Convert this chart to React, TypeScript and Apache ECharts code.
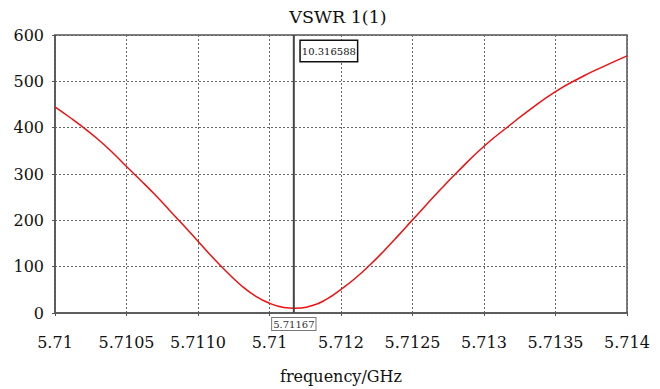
import React, { useEffect, useRef } from "react";
import * as echarts from "echarts";

const freq = [5.7100, 5.7101, 5.7102, 5.7103, 5.7104, 5.7105, 5.7106, 5.7107, 5.7108, 5.7109, 5.7110, 5.7111, 5.7112, 5.7113, 5.7114, 5.7115, 5.7116, 5.71167, 5.7118, 5.7119, 5.7120, 5.7121, 5.7122, 5.7123, 5.7124, 5.7125, 5.7127, 5.7128, 5.7130, 5.7132, 5.7133, 5.7135, 5.7137, 5.7138, 5.7140];
const vswr = [445, 423, 400, 375, 347, 316, 286, 255, 222, 189, 155, 121, 89, 60, 37, 21, 12, 10.3, 16, 30, 51, 75, 103, 134, 167, 201, 268, 300, 360, 410, 434, 478, 512, 527, 555];
const xTickLabels = ["5.71", "5.7105", "5.7110", "5.71", "5.712", "5.7125", "5.713", "5.7135", "5.714"];
const markerFreq = 5.71167;
const markerFreqLabel = "5.71167";
const markerValueLabel = "10.316588";
const titleText = "VSWR 1(1)";
const xAxisTitle = "frequency/GHz";

const FONT = "DejaVu Serif";

export default function App() {
  const ref = useRef<HTMLDivElement>(null);
  useEffect(() => {
    if (!ref.current) return;
    const chart = echarts.init(ref.current, undefined, { renderer: "svg" });
    const option: any = {
      animation: false,
      backgroundColor: "#fff",
      textStyle: { fontFamily: FONT },
      grid: {
        left: 55, right: 33, top: 35, bottom: 76,
        show: true, borderColor: "#555", borderWidth: 1.5, backgroundColor: "transparent",
      },
      xAxis: {
        type: "value",
        min: 5.71, max: 5.714, interval: 0.0005,
        name: xAxisTitle, nameLocation: "middle", nameGap: 55,
        nameTextStyle: { fontFamily: FONT, fontSize: 16, color: "#111" },
        axisLine: { show: true, lineStyle: { color: "#555", width: 1.5 } },
        axisTick: { show: true, length: 3, lineStyle: { color: "#555" } },
        axisLabel: {
          fontFamily: FONT, fontSize: 16, color: "#111", margin: 21,
          formatter: (v: number) => {
            const i = Math.round((v - 5.71) / 0.0005);
            return xTickLabels[i] ?? "";
          },
        },
        splitLine: { show: true, lineStyle: { color: "#666", type: [2, 2], width: 1 } },
      },
      yAxis: {
        type: "value",
        min: 0, max: 600, interval: 100,
        axisLine: { show: true, lineStyle: { color: "#555", width: 1.5 } },
        axisTick: { show: true, length: 3, lineStyle: { color: "#555" } },
        axisLabel: { fontFamily: FONT, fontSize: 16, color: "#111", margin: 11 },
        splitLine: { show: true, lineStyle: { color: "#666", type: [2, 2], width: 1 } },
      },
      series: [
        {
          type: "line",
          data: freq.map((f, i) => [f, vswr[i]]),
          smooth: 0.5,
          showSymbol: false,
          lineStyle: { color: "#ee1111", width: 1.5 },
          z: 3,
        },
      ],
    };
    chart.setOption(option);
    const pt = chart.convertToPixel({ gridIndex: 0 }, [markerFreq, 600]) as number[];
    const pb = chart.convertToPixel({ gridIndex: 0 }, [markerFreq, 0]) as number[];
    chart.setOption({
      graphic: [
        {
          type: "text",
          x: 338,
          y: 17,
          style: {
            text: titleText,
            align: "center",
            verticalAlign: "middle",
            fontFamily: FONT, fontSize: 17.5, fill: "#111",
          },
        },
        {
          type: "line",
          z: 50,
          shape: { x1: pt[0], y1: pt[1], x2: pb[0], y2: pb[1] },
          style: { stroke: "#444", lineWidth: 2 },
        },
        {
          type: "text",
          x: pt[0] + 7,
          y: pt[1] + 6,
          z: 100,
          style: {
            text: markerValueLabel,
            fontFamily: FONT, fontSize: 10, fill: "#111",
            backgroundColor: "#fff", borderColor: "#111", borderWidth: 1.5,
            padding: [5, 1, 5, 1],
          },
        },
        {
          type: "text",
          x: pb[0],
          y: pb[1] + 5,
          z: 100,
          style: {
            text: markerFreqLabel,
            align: "center",
            fontFamily: FONT, fontSize: 10, fill: "#333",
            backgroundColor: "#fff", borderColor: "#777", borderWidth: 1,
            padding: [1, 1, 1, 1],
          },
        },
      ],
    });
    return () => chart.dispose();
  }, []);
  return <div ref={ref} style={{ width: 660, height: 389, position: "absolute", left: 0, top: 0 }} />;
}
